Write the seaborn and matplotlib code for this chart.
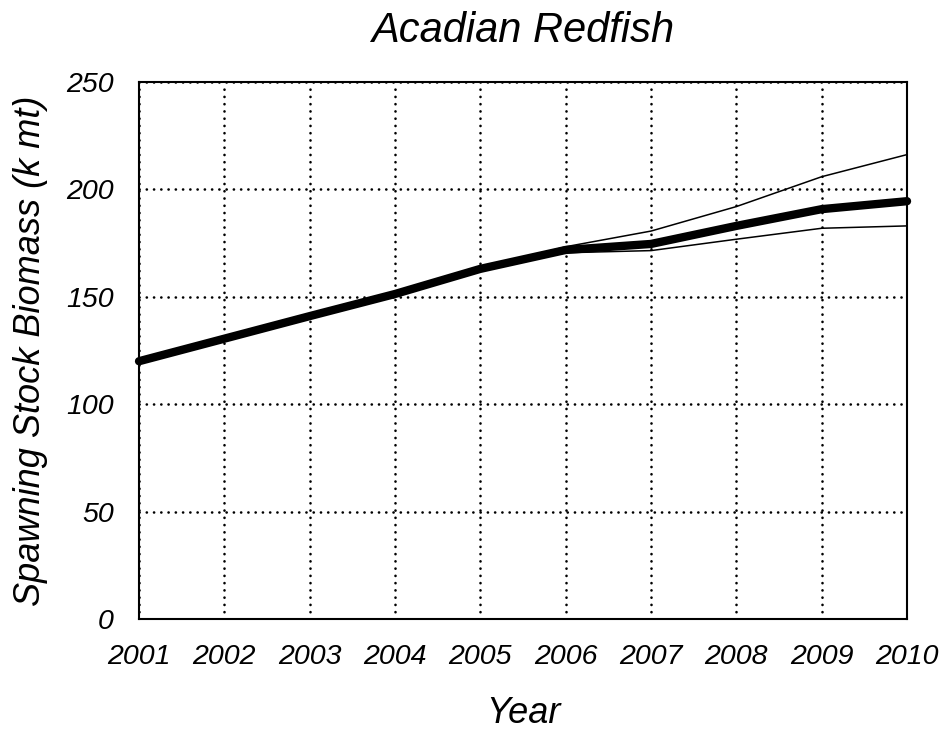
import matplotlib
matplotlib.use("Agg")
import matplotlib.pyplot as plt
import seaborn as sns
import pandas as pd

# Spawning stock biomass projections (thousand metric tons)
years = [2001, 2002, 2003, 2004, 2005, 2006, 2007, 2008, 2009, 2010]
ssb_median = [120.0, 130.5, 141.0, 151.3, 163.0, 171.8, 174.6, 183.0, 190.8, 194.5]
proj_years = [2005, 2006, 2007, 2008, 2009, 2010]
ssb_upper = [163.0, 173.3, 180.6, 192.0, 205.9, 216.2]
ssb_lower = [163.0, 170.5, 171.5, 176.8, 181.9, 183.0]
y_ticks = [0, 50, 100, 150, 200, 250]

sns.set_theme(style="white")
plt.rcParams["font.family"] = ["Liberation Sans", "DejaVu Sans"]

fig = plt.figure(figsize=(9.47, 7.34), dpi=100)
ax = fig.add_axes([0.1468, 0.1567, 0.811, 0.7316])

median_df = pd.DataFrame({"year": years, "ssb": ssb_median})
band_df = pd.DataFrame({"year": proj_years, "upper": ssb_upper, "lower": ssb_lower})

sns.lineplot(data=band_df, x="year", y="upper", ax=ax, color="black", lw=1.1, zorder=3)
sns.lineplot(data=band_df, x="year", y="lower", ax=ax, color="black", lw=1.1, zorder=3)
sns.lineplot(data=median_df, x="year", y="ssb", ax=ax, color="black", lw=6,
             solid_capstyle="round", zorder=4, clip_on=False)

ax.set_xlim(years[0], years[-1])
ax.set_ylim(0, 250)
ax.set_xticks(years)
ax.set_yticks(y_ticks)
ax.set_xticklabels([str(y) for y in years])
ax.set_yticklabels([str(t) for t in y_ticks])

# dotted grid: small round dots
ax.grid(True, color="black", linestyle=(0, (0.05, 2.7)), linewidth=1.9,
        dash_capstyle="round")
ax.set_axisbelow(True)

for s in ax.spines.values():
    s.set_visible(True)
    s.set_color("black")
    s.set_linewidth(1.5)

ax.tick_params(axis="both", which="major", direction="out", color="black",
               width=1.5, labelsize=20.5, labelcolor="black")
ax.tick_params(axis="x", length=4, pad=14)
ax.tick_params(axis="y", length=7, pad=11)
for lab in ax.get_xticklabels() + ax.get_yticklabels():
    lab.set_fontstyle("italic")

ax.set_xlabel("Year", fontsize=26, fontstyle="italic", labelpad=19, color="black")
ax.set_ylabel("Spawning Stock Biomass (k mt)", fontsize=26, fontstyle="italic",
              labelpad=13, color="black")
ax.set_title("Acadian Redfish", fontsize=30, fontstyle="italic", pad=29, color="black")

fig.savefig("out.png", dpi=100)
